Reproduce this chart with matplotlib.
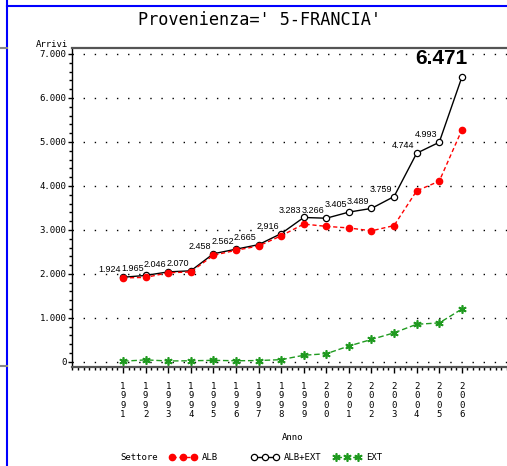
import matplotlib.pyplot as plt
import numpy as np
from matplotlib.lines import Line2D
from matplotlib.ticker import MultipleLocator, FuncFormatter

# data (Provenienza 5-FRANCIA)
anni = [1991, 1992, 1993, 1994, 1995, 1996, 1997, 1998,
        1999, 2000, 2001, 2002, 2003, 2004, 2005, 2006]
alb_ext = [1924, 1965, 2046, 2070, 2458, 2562, 2665, 2916,
           3283, 3266, 3405, 3489, 3759, 4744, 4993, 6471]
ext = [15, 45, 20, 25, 35, 25, 30, 50,
       150, 185, 360, 510, 660, 855, 885, 1200]
alb = [1909, 1920, 2026, 2045, 2423, 2537, 2635, 2866,
       3133, 3081, 3045, 2979, 3099, 3889, 4108, 5271]

MONO = 'DejaVu Sans Mono'
ARIAL = 'Liberation Sans'
RED = '#ff0000'
GREEN = '#1f9a1f'

W, H = 507, 466
fig = plt.figure(figsize=(W / 100, H / 100), dpi=100)


def fx(px):
    return px / W


def fy(py):
    return 1 - py / H


ax = fig.add_axes([fx(72), fy(366.7), 1 - fx(72), fy(48.5) - fy(366.7)])
ax.set_xlim(1988.74, 2008.0)
ax.set_ylim(-110, 7125)

# gridlines
ax.set_yticks(np.arange(0, 7001, 1000))
ax.yaxis.grid(True, color='black', linestyle=(0, (1, 7)), linewidth=1.0)
ax.set_axisbelow(True)

# series
ax.plot(anni, ext, color=GREEN, linestyle=(0, (4, 2)), linewidth=1,
        marker=(6, 2, 0), markersize=6, markeredgewidth=1.2, zorder=3)
ax.plot(anni, alb_ext, color='black', linewidth=1, marker='o',
        markersize=4.5, markerfacecolor='white', markeredgecolor='black',
        markeredgewidth=0.9, zorder=4)
ax.plot(anni, alb, color=RED, linestyle=(0, (3, 2)), linewidth=1,
        marker='o', markersize=4.5, markerfacecolor=RED,
        markeredgecolor=RED, zorder=5)

# value labels on ALB+EXT
for a, v in zip(anni[:-1], alb_ext[:-1]):
    ax.annotate(f'{v:,}'.replace(',', '.'), (a, v), xytext=(-1.5, 3.5),
                textcoords='offset points', ha='right', va='baseline',
                fontsize=6.5, family=ARIAL, zorder=6)
ax.annotate(f'{alb_ext[-1]:,}'.replace(',', '.'), (anni[-1], alb_ext[-1]),
            xytext=(4.3, 9.4), textcoords='offset points', ha='right',
            va='baseline', fontsize=15, fontweight='bold', family=ARIAL,
            zorder=6)

# axes styling
ax.spines['right'].set_visible(False)
ax.spines['top'].set_color('#555555')
ax.spines['top'].set_linewidth(1.6)
ax.spines['bottom'].set_color('#555555')
ax.spines['bottom'].set_linewidth(1.6)
ax.spines['left'].set_linewidth(1.0)

ax.set_xticks(anni)
ax.set_xticklabels(['\n'.join(str(a)) for a in anni], family=MONO,
                   fontsize=6.5, linespacing=1.05)
ax.xaxis.set_minor_locator(MultipleLocator(0.25))
ax.yaxis.set_minor_locator(MultipleLocator(200))
ax.yaxis.set_major_formatter(
    FuncFormatter(lambda v, p: f'{int(v):,}'.replace(',', '.')))
for lab in ax.get_yticklabels():
    lab.set_family(MONO)
    lab.set_fontsize(6.5)
ax.tick_params(axis='x', which='major', length=4, width=1, pad=7)
ax.tick_params(axis='x', which='minor', length=2.5, width=1)
ax.tick_params(axis='y', which='major', length=3, width=1, pad=1)
ax.tick_params(axis='y', which='minor', length=2, width=1)

# titles
fig.text(fx(260), fy(20), "Provenienza=' 5-FRANCIA'", family=MONO,
         fontsize=12.2, ha='center', va='center')
fig.text(fx(52), fy(44.5), 'Arrivi', family=MONO, fontsize=6.5,
         ha='center', va='center')
fig.text(fx(293), fy(438), 'Anno', family=MONO, fontsize=6.5,
         ha='center', va='center')

# legend row
ly = fy(457)
fig.text(fx(120), ly, 'Settore', family=MONO, fontsize=6.5, va='center')
legend_items = [
    ('ALB', 172, dict(color=RED, linestyle=(0, (3, 2)), marker='o',
                      markerfacecolor=RED, markeredgecolor=RED)),
    ('ALB+EXT', 254, dict(color='black', marker='o', markerfacecolor='white',
                          markeredgecolor='black', markeredgewidth=0.9)),
    ('EXT', 336, dict(color=GREEN, linestyle=(0, (4, 2)), marker=(6, 2, 0),
                      markeredgewidth=1.2)),
]
for name, x0, style in legend_items:
    xs = [fx(x0), fx(x0 + 11), fx(x0 + 22)]
    ms = 6 if name == 'EXT' else 4.5
    fig.add_artist(Line2D(xs, [ly] * 3, transform=fig.transFigure,
                          linewidth=1, markersize=ms, **style))
    fig.text(fx(x0 + 30), ly, name, family=MONO, fontsize=6.5, va='center')

# window border lines from the screenshot
fig.add_artist(Line2D([fx(7), 1], [fy(5.5)] * 2, color='#0000ff',
                      linewidth=1.5, transform=fig.transFigure))
fig.add_artist(Line2D([fx(7.3)] * 2, [0, 1], color='#0000ff',
                      linewidth=1.5, transform=fig.transFigure))
for py in (48, 366):
    fig.add_artist(Line2D([0, fx(7)], [fy(py)] * 2, color='#888888',
                          linewidth=1.5, transform=fig.transFigure))

fig.savefig('out.png', dpi=100)
